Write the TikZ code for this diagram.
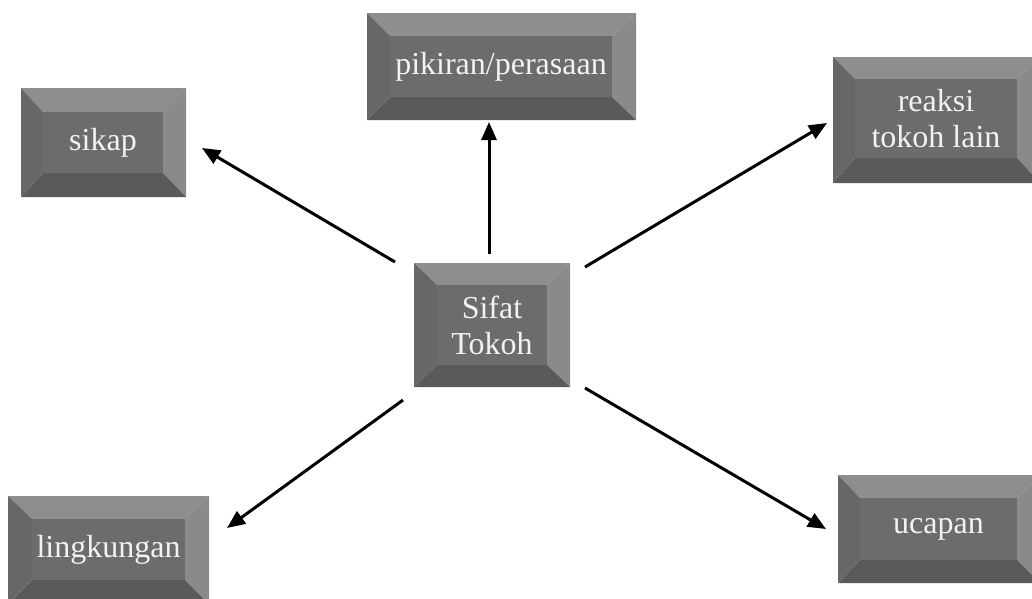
\documentclass[tikz,border=0pt]{standalone}
\usepackage{fontspec}
\setmainfont{Liberation Serif}
\usetikzlibrary{arrows.meta,calc}
\definecolor{bevtop}{HTML}{8E8E8E}
\definecolor{bevright}{HTML}{8A8A8A}
\definecolor{bevleft}{HTML}{676767}
\definecolor{bevbottom}{HTML}{5A5A5A}
\definecolor{bevface}{HTML}{6C6C6C}
\definecolor{boxtextcol}{HTML}{F2F2F2}
\tikzset{
  boxtext/.style={text=boxtextcol, align=center, inner sep=0pt,
    font=\fontsize{32}{36}\selectfont},
  arr/.style={line width=3pt, -{Triangle[length=18pt,width=15pt]}},
}
% #1 name, #2 outer NW, #3 outer SE, #4 inner NW, #5 inner SE, #6 text
\newcommand\bevbox[6]{%
  \coordinate (#1-o1) at (#2);
  \coordinate (#1-o2) at (#3);
  \coordinate (#1-i1) at (#4);
  \coordinate (#1-i2) at (#5);
  \fill[bevtop] (#1-o1) -- (#1-o2 |- #1-o1) -- (#1-i2 |- #1-i1) -- (#1-i1) -- cycle;
  \fill[bevright] (#1-o2 |- #1-o1) -- (#1-o2) -- (#1-i2) -- (#1-i2 |- #1-i1) -- cycle;
  \fill[bevbottom] (#1-o2) -- (#1-o1 |- #1-o2) -- (#1-i1 |- #1-i2) -- (#1-i2) -- cycle;
  \fill[bevleft] (#1-o1 |- #1-o2) -- (#1-o1) -- (#1-i1) -- (#1-i1 |- #1-i2) -- cycle;
  \fill[bevface] (#1-i1) rectangle (#1-i2);
  \node[boxtext] (#1) at ($(#1-i1)!0.5!(#1-i2)$) {#6};
}
\begin{document}
\begin{tikzpicture}[x=1pt,y=-1pt]
\useasboundingbox (0,0) rectangle (1032,598);
\clip (0,0) rectangle (1032,598);
\bevbox{sikap}{21,88}{186,197}{43,112}{163,173}{sikap}
\bevbox{pikiran}{367,13}{636,120}{390,36}{612,97}{pikiran/perasaan}
\bevbox{reaksi}{833,57}{1040,183}{855,79}{1017,158}{reaksi\\tokoh lain}
\bevbox{sifat}{414,263}{570,387}{437,285}{547,365}{Sifat\\Tokoh}
\bevbox{lingk}{8,496}{209,604}{32,519}{185,580}{lingkungan}
\bevbox{ucapan}{838,475}{1040,583}{860,498}{1017,560}{ucapan}
% connector end points
\coordinate (a1) at (395,262);
\coordinate (b1) at (202,148);
\coordinate (a2) at (489,254);
\coordinate (b2) at (489,122);
\coordinate (a3) at (585,267);
\coordinate (b3) at (827,123);
\coordinate (a4) at (403,400);
\coordinate (b4) at (227,528);
\coordinate (a5) at (585,388);
\coordinate (b5) at (826,529);
\draw[arr] (a1) -- (b1);
\draw[arr] (a2) -- (b2);
\draw[arr] (a3) -- (b3);
\draw[arr] (a4) -- (b4);
\draw[arr] (a5) -- (b5);
\end{tikzpicture}
\end{document}
